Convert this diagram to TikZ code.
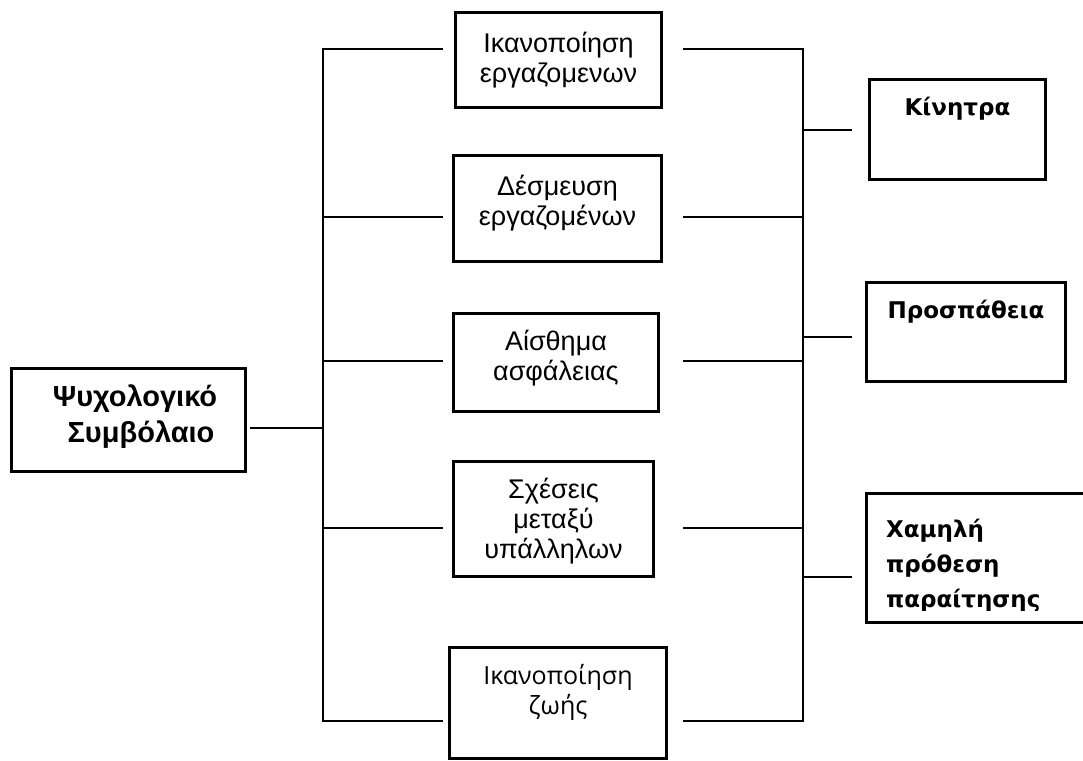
\documentclass[tikz,border=0pt]{standalone}
\usepackage{fontspec}
\setmainfont{Liberation Sans}
\newfontfamily\opensans{Open Sans}
\newfontfamily\dejavu{DejaVu Sans}
\begin{document}
\begin{tikzpicture}[x=1pt,y=-1pt,
  box/.style={draw, line width=3.2pt, rectangle, inner sep=0pt},
  wire/.style={line width=1.8pt},
  mtext/.style={align=center, inner sep=0pt, font=\fontsize{27}{30}\selectfont},
  ztext/.style={align=center, inner sep=0pt, font=\opensans\fontsize{25}{30}\selectfont},
  ltext/.style={align=center, inner sep=0pt, font=\bfseries\fontsize{29}{35.5}\selectfont},
  rtext/.style={inner sep=0pt, font=\dejavu\bfseries\fontsize{23}{35}\selectfont},
]
\useasboundingbox (0,0) rectangle (1083,760);
\clip (0,0) rectangle (1083,760);

% boxes
\node[box, minimum width=233.8pt, minimum height=102.8pt] (L) at (128.5,420) {};
\node[box, minimum width=205.8pt, minimum height=94.8pt]  (m1) at (558.5,60) {};
\node[box, minimum width=207.8pt, minimum height=105.8pt] (m2) at (557.5,208.5) {};
\node[box, minimum width=204.8pt, minimum height=97.8pt]  (m3) at (556,362.5) {};
\node[box, minimum width=199.8pt, minimum height=114.8pt] (m4) at (553.5,519) {};
\node[box, minimum width=216.8pt, minimum height=110.8pt] (m5) at (558,703) {};
\node[box, minimum width=175.8pt, minimum height=99.8pt]  (r1) at (957.5,129.5) {};
\node[box, minimum width=198.8pt, minimum height=98.8pt]  (r2) at (966,332) {};
\node[box, minimum width=241.8pt, minimum height=128.8pt] (r3) at (987.5,558) {};

% texts
\node[ltext] (Lt) at (135,416.5) {Ψυχολογικό\\\hspace*{12pt}Συμβόλαιο};
\node[mtext] (m1t) at (558.5,60.2) {Ικανοποίηση\\εργαζομενων};
\node[mtext] (m2t) at (557.5,202.9) {Δέσμευση\\εργαζομένων};
\node[mtext] (m3t) at (556,357.9) {Αίσθημα\\ασφάλειας};
\node[mtext] (m4t) at (553.5,520.9) {Σχέσεις\\μεταξύ\\υπάλληλων};
\node[ztext] (m5t) at (558,692.5) {Ικανοποίηση\\ζωής};
\node[rtext, anchor=base] (r1t) at (957.5,115) {Κίνητρα};
\node[rtext, anchor=base] (r2t) at (966,318.3) {Προσπάθεια};
\begin{scope}
  \clip (865,492) rectangle (1083,610);
  \node[rtext, align=left, anchor=west] (r3t) at (886,566) {Χαμηλή\\πρόθεση\\παραίτησης};
\end{scope}

% connector points
\coordinate (Le) at (250,428);
\coordinate (blc) at (323,428);
\coordinate (bl1) at (323,49);
\coordinate (bl2) at (323,217);
\coordinate (bl3) at (323,361);
\coordinate (bl4) at (323,528);
\coordinate (bl5) at (323,721);
\coordinate (ml1) at (443,49);
\coordinate (ml2) at (443,217);
\coordinate (ml3) at (443,361);
\coordinate (ml4) at (443,528);
\coordinate (ml5) at (443,721);
\coordinate (mr1) at (683,49);
\coordinate (mr2) at (683,217);
\coordinate (mr3) at (683,361);
\coordinate (mr4) at (683,528);
\coordinate (mr5) at (683,721);
\coordinate (br1) at (803,49);
\coordinate (br2) at (803,217);
\coordinate (br3) at (803,361);
\coordinate (br4) at (803,528);
\coordinate (br5) at (803,721);
\coordinate (bq1) at (803,130);
\coordinate (bq2) at (803,337);
\coordinate (bq3) at (803,577);
\coordinate (rq1) at (852,130);
\coordinate (rq2) at (852,337);
\coordinate (rq3) at (852,577);

% left bus
\draw[wire] (Le) -- (blc);
\draw[wire] (ml1) -- (bl1) -- (bl5) -- (ml5);
\draw[wire] (bl2) -- (ml2);
\draw[wire] (bl3) -- (ml3);
\draw[wire] (bl4) -- (ml4);
% right bus
\draw[wire] (mr1) -- (br1) -- (br5) -- (mr5);
\draw[wire] (mr2) -- (br2);
\draw[wire] (mr3) -- (br3);
\draw[wire] (mr4) -- (br4);
\draw[wire] (bq1) -- (rq1);
\draw[wire] (bq2) -- (rq2);
\draw[wire] (bq3) -- (rq3);
\end{tikzpicture}
\end{document}
